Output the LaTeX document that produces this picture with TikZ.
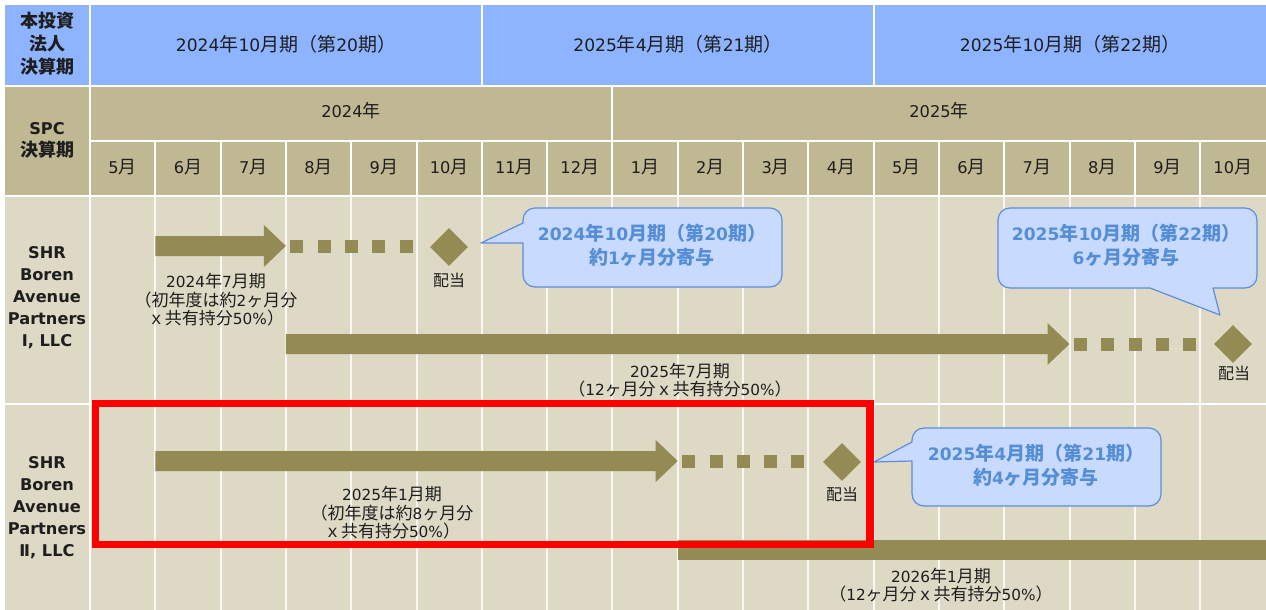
\documentclass[tikz,border=0pt]{standalone}
\usepackage{fontspec}
\setmainfont{DejaVu Sans}[Scale=0.9]
\newfontfamily\jp{Noto Sans CJK JP}
\newcommand\J[1]{{\jp #1}}
\usetikzlibrary{calc,shapes.geometric}
\definecolor{hdrblue}{RGB}{142,180,255}
\definecolor{spckhaki}{RGB}{191,184,146}
\definecolor{bodybeige}{RGB}{221,217,196}
\definecolor{arrowolive}{RGB}{148,138,84}
\definecolor{calloutfill}{RGB}{200,219,255}
\definecolor{calloutdraw}{RGB}{95,140,220}
\definecolor{callouttext}{RGB}{85,142,213}
\definecolor{txt}{RGB}{30,30,30}
\newcommand\blockarrow[2]{\fill[arrowolive] ($(#1)+(0,-10)$) -- ($(#2)+(-22,-10)$) -- ($(#2)+(-22,-21)$) -- (#2) -- ($(#2)+(-22,21)$) -- ($(#2)+(-22,10)$) -- ($(#1)+(0,10)$) -- cycle;}
\newcommand\dotrow[1]{\foreach \k in {0,...,4} \fill[arrowolive] ($(#1)+({11+27.3*\k},0)$) +(-6.5,-6.5) rectangle +(6.5,6.5);}
\tikzset{
 base/.style={inner sep=0pt, align=center, text=txt},
 hdrtxt/.style={base, font=\fontsize{19}{22}\selectfont},
 mtxt/.style={base, font=\fontsize{18}{20}\selectfont},
 hdrbold/.style={base, font=\jp\bfseries\fontsize{18}{23}\selectfont},
 rowlbl/.style={base, font=\bfseries\fontsize{18}{22}\selectfont},
 lbl/.style={base, font=\fontsize{17}{18.5}\selectfont},
 haitou/.style={base, font=\jp\fontsize{16}{18}\selectfont},
 dia/.style={diamond, aspect=1, fill=arrowolive, minimum width=38, minimum height=38, inner sep=0pt},
 callout/.style={fill=calloutfill, draw=calloutdraw, line width=1.2pt, line join=round},
 ctxt/.style={base, text=callouttext, font=\bfseries\fontsize{19}{24}\selectfont},
 gridw/.style={draw=white, line width=2pt},
 gridl/.style={draw=white, draw opacity=0.8, line width=2pt},
 redbox/.style={draw=red, line width=7.5pt},
}
\begin{document}
\begin{tikzpicture}[x=1pt,y=-1pt]
\useasboundingbox (0,0) rectangle (1266,610);
\fill[white] (0,0) rectangle (1266,610);
% backgrounds
\fill[hdrblue] (5,5) rectangle (1266,86);
\fill[spckhaki] (5,86) rectangle (1266,196);
\fill[bodybeige] (5,196) rectangle (1266,610);
% grid
\foreach \i in {1,...,17} \draw[gridl] ({90+65.3*\i},196) -- ({90+65.3*\i},610);
\foreach \i in {1,...,17} \draw[gridw] ({90+65.3*\i},141) -- ({90+65.3*\i},196);
\draw[gridw] (5,86) -- (1266,86);
\draw[gridw] (5,196) -- (1266,196);
\draw[gridw] (5,404) -- (1266,404);
\draw[gridw] (90,141) -- (1266,141);
\draw[gridw] (90,5) -- (90,610);
\draw[gridw] (481.8,5) -- (481.8,86);
\draw[gridw] (873.6,5) -- (873.6,86);
\draw[gridw] (612.4,86) -- (612.4,141);
% header texts
\node[hdrbold] (hdr) at (47,44) {本投資\\法人\\決算期};
\node[hdrtxt] (p20) at (286,44) {2024\J{年}10\J{月期（第}20\J{期）}};
\node[hdrtxt] (p21) at (678,44) {2025\J{年}4\J{月期（第}21\J{期）}};
\node[hdrtxt] (p22) at (1070,44) {2025\J{年}10\J{月期（第}22\J{期）}};
\node[rowlbl] (spc) at (47,140) {SPC\\\J{決算期}};
\node[mtxt] (y24) at (351,111) {2024\J{年}};
\node[mtxt] (y25) at (939,111) {2025\J{年}};
\foreach \m [count=\i from 0] in {5,6,7,8,9,10,11,12,1,2,3,4,5,6,7,8,9,10}
  \node[mtxt] (m\i) at ({90+65.3*(\i+0.5)},167) {\m\J{月}};
% row labels
\node[rowlbl] (r1) at (47,298) {SHR\\Boren\\Avenue\\Partners\\I, LLC};
\node[rowlbl] (r2) at (47,508) {SHR\\Boren\\Avenue\\Partners\\Ⅱ, LLC};
% coordinates
\coordinate (a1s) at (155.3,246); \coordinate (a1e) at (285.9,246);
\coordinate (a2s) at (285.9,344); \coordinate (a2e) at (1069.5,344);
\coordinate (a3s) at (155.3,461); \coordinate (a3e) at (677.7,461);
\coordinate (b4s) at (677.7,550); \coordinate (b4e) at (1266,550);
% arrows
\blockarrow{a1s}{a1e}
\dotrow{a1e}
\node[dia] (d1) at (449,247) {};
\node[haitou] (h1) at (449,280) {配当};
\blockarrow{a2s}{a2e}
\dotrow{a2e}
\node[dia] (d2) at (1233,344) {};
\node[haitou] (h2) at (1234,373) {配当};
\blockarrow{a3s}{a3e}
\dotrow{a3e}
\node[dia] (d3) at (842,462) {};
\node[haitou] (h3) at (842,494) {配当};
\fill[arrowolive] ($(b4s)+(0,-10)$) rectangle ($(b4e)+(0,10)$);
% arrow labels
\node[lbl] (l1) at (216,300) {2024\J{年}7\J{月期}\\\J{（初年度は約}2\J{ヶ月分}\\\J{ｘ共有持分}50\%\J{）}};
\node[lbl] (l2) at (680,380) {2025\J{年}7\J{月期}\\\J{（}12\J{ヶ月分ｘ共有持分}50\%\J{）}};
\node[lbl] (l3) at (392,513) {2025\J{年}1\J{月期}\\\J{（初年度は約}8\J{ヶ月分}\\\J{ｘ共有持分}50\%\J{）}};
\node[lbl] (l4) at (941,585) {2026\J{年}1\J{月期}\\\J{（}12\J{ヶ月分ｘ共有持分}50\%\J{）}};
% callouts
\draw[callout] (523,243) -- (481,243) -- (523,223) -- (523,220) arc[start angle=180,end angle=270,radius=12] -- (770,208) arc[start angle=270,end angle=360,radius=12] -- (782,275) arc[start angle=0,end angle=90,radius=12] -- (535,287) arc[start angle=90,end angle=180,radius=12] -- cycle;
\node[ctxt] (c1) at (652,245) {2024\J{年}10\J{月期（第}20\J{期）}\\\J{約}1\J{ヶ月分寄与}};
\draw[callout] (1150,288) -- (1010,288) arc[start angle=90,end angle=180,radius=12] -- (998,220) arc[start angle=180,end angle=270,radius=12] -- (1245,208) arc[start angle=270,end angle=360,radius=12] -- (1257,276) arc[start angle=0,end angle=90,radius=12] -- (1213,288) -- (1220,315) -- cycle;
\node[ctxt] (c2) at (1126,245) {2025\J{年}10\J{月期（第}22\J{期）}\\6\J{ヶ月分寄与}};
\draw[callout] (912,461) -- (874,462) -- (912,442) -- (912,440) arc[start angle=180,end angle=270,radius=12] -- (1149,428) arc[start angle=270,end angle=360,radius=12] -- (1161,494) arc[start angle=0,end angle=90,radius=12] -- (924,506) arc[start angle=90,end angle=180,radius=12] -- cycle;
\node[ctxt] (c3) at (1036,465) {2025\J{年}4\J{月期（第}21\J{期）}\\\J{約}4\J{ヶ月分寄与}};
% red highlight
\draw[redbox] (95.5,403.5) rectangle (870,544.5);
\end{tikzpicture}
\end{document}
